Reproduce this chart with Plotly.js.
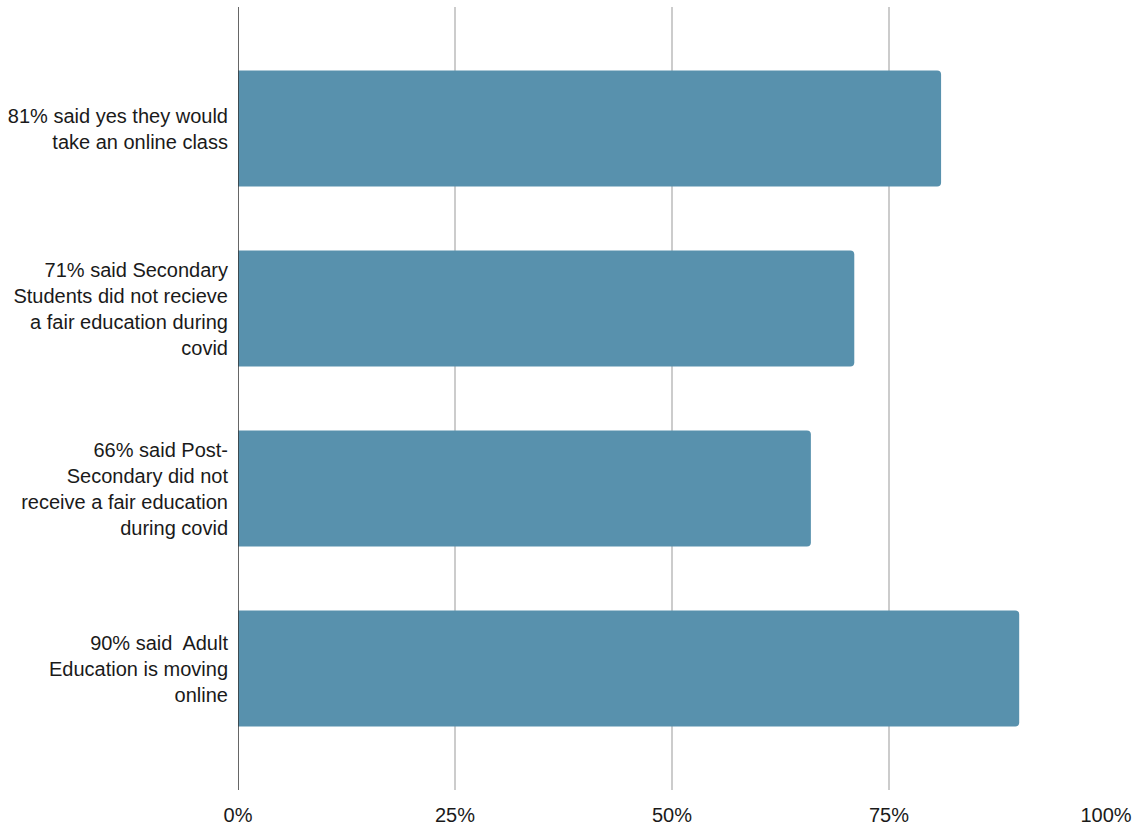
<!DOCTYPE html>
<html>
<head>
<meta charset="utf-8">
<script src="https://cdn.plot.ly/plotly-3.0.1.min.js"></script>
<style>html,body{margin:0;padding:0;background:#fff;}#chart{width:1132px;height:830px;}</style>
</head>
<body>
<div id="chart"></div>
<script>
const categories = [
  "81% said yes they would<br>take an online class",
  "71% said Secondary<br>Students did not recieve<br>a fair education during<br>covid",
  "66% said Post-<br>Secondary did not<br>receive a fair education<br>during covid",
  "90% said  Adult<br>Education is moving<br>online"
];
const values = [0.81, 0.71, 0.66, 0.90];
const xTickVals = [0, 0.25, 0.5, 0.75, 1];
const xTickText = ["0%", "25%", "50%", "75%", "100%"];

const trace = {
  type: 'bar',
  orientation: 'h',
  x: values,
  y: categories.map((c, i) => i),
  width: 0.645,
  marker: {color: '#5891ad', cornerradius: 4},
  hoverinfo: 'none'
};

const fontFam = '"Liberation Sans", Arial, sans-serif';

const layout = {
  width: 1132, height: 830,
  margin: {l: 238, r: 26, t: 7, b: 40},
  paper_bgcolor: '#fff', plot_bgcolor: '#fff',
  showlegend: false,
  font: {family: fontFam, size: 20, color: '#1a1a1a'},
  xaxis: {
    range: [0, 1],
    tickvals: xTickVals, ticktext: xTickText,
    showgrid: true, gridcolor: '#cccccc', gridwidth: 1.5,
    zeroline: false, showline: false,
    ticks: '', ticklabelstandoff: 11,
    tickfont: {family: fontFam, size: 20, color: '#1a1a1a'}
  },
  yaxis: {
    range: [3.675, -0.675],
    tickvals: [0, 1, 2, 3], ticktext: categories,
    showgrid: false, zeroline: false,
    showline: false, ticks: '',
    ticklabelstandoff: 9,
    tickfont: {family: fontFam, size: 20, color: '#1a1a1a'}
  },
  shapes: [{
    type: 'line', xref: 'x', yref: 'paper', x0: 0, x1: 0, y0: 0, y1: 1,
    line: {color: '#333', width: 1.5}, layer: 'above'
  }]
};

Plotly.newPlot('chart', [trace], layout, {displayModeBar: false, staticPlot: true});
</script>
</body>
</html>
